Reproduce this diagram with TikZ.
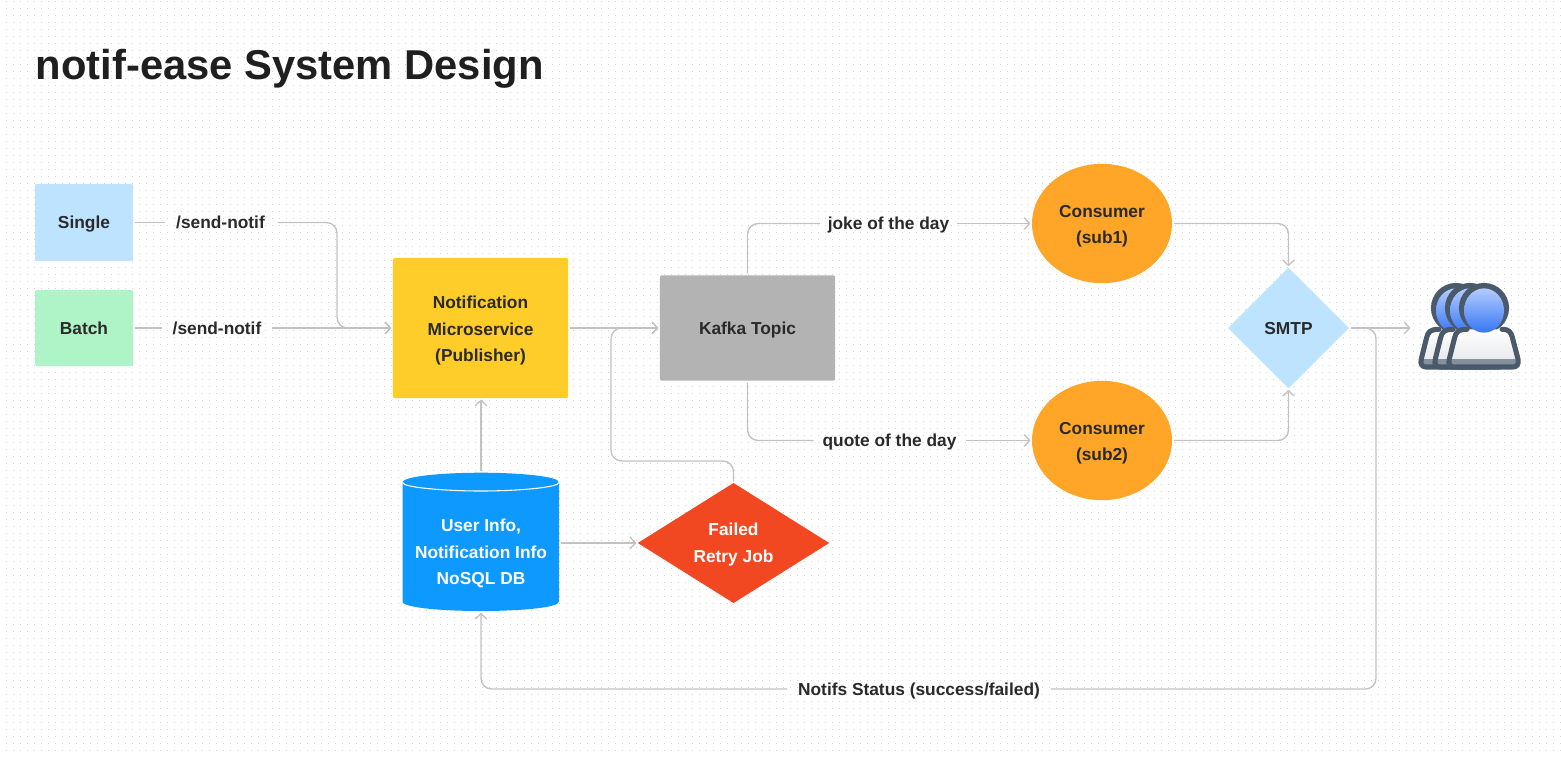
\documentclass[tikz,border=0pt]{standalone}
\usepackage{fontspec}
\setmainfont{Liberation Sans}
\usetikzlibrary{shapes.geometric,arrows.meta}
\definecolor{linec}{HTML}{C2C2C2}
\definecolor{dotc}{HTML}{D4D4D4}
\definecolor{ink}{HTML}{2A2A2A}
\definecolor{skyb}{HTML}{BDE3FF}
\definecolor{mint}{HTML}{AFF4C6}
\definecolor{amber}{HTML}{FFCD29}
\definecolor{kgray}{HTML}{B3B3B3}
\definecolor{orng}{HTML}{FFA629}
\definecolor{dbblue}{HTML}{0D99FF}
\definecolor{redo}{HTML}{F24822}
\definecolor{uline}{HTML}{4A5A6A}
\definecolor{heada}{HTML}{B4CCFF}
\definecolor{headb}{HTML}{3677F5}
\definecolor{bodyb}{HTML}{E3E5E8}
\definecolor{strip}{HTML}{84919D}
\newcommand{\topstrut}[1]{\rule{0pt}{#1}}
\tikzset{
  x=0.75pt,y=-0.75pt,
  txt/.style={font=\fontsize{13pt}{19.9pt}\selectfont\bfseries,text=ink,align=center,inner sep=0pt,outer sep=0pt,
    execute at begin node={\rule{0pt}{12.3pt}},execute at end node={\rule[-3pt]{0pt}{3pt}}},
  box/.style={txt,rectangle,rounded corners=1.5pt},
  lbl/.style={txt,minimum height=14pt},
  conn/.style={draw=linec,line width=1pt,rounded corners=8pt,shorten <=1.5pt},
  arr/.style={conn,-{Straight Barb[length=4pt,width=8.5pt,line width=1pt,round]},shorten >=1.2pt},
}
\begin{document}
\begin{tikzpicture}
\useasboundingbox (0,0) rectangle (1561,758);
\fill[white] (0,0) rectangle (1561,758);
% dotted grid
\foreach \i in {0,...,107}{
  \draw[dotc,line width=0.75pt,dash pattern=on 0.75pt off 4.5pt] (6,{1.5+7*\i}) -- (1561,{1.5+7*\i});
}
\node[anchor=base west,inner sep=0pt,font=\fontsize{31.3pt}{36pt}\selectfont\bfseries,text=black!88] (title) at (35.5,79) {notif-ease System Design};

% boxes
\node[box,fill=skyb,minimum width=73.5pt,minimum height=58pt] (single) at (84,222.5) {Single};
\node[box,fill=mint,minimum width=73.5pt,minimum height=57pt] (batch) at (84,328) {Batch};
\node[box,fill=amber,minimum width=131.5pt,minimum height=105pt] (note) at (480.5,328) {\topstrut{13.8pt}Notification\\Microservice\\(Publisher)};
\node[box,fill=kgray,minimum width=131.5pt,minimum height=79pt] (kafka) at (747.5,328) {Kafka Topic};
\node[txt,ellipse,fill=orng,minimum width=105pt,minimum height=89.5pt] (c1) at (1102,223.5) {\topstrut{13.8pt}Consumer\\(sub1)};
\node[txt,ellipse,fill=orng,minimum width=105pt,minimum height=89.5pt] (c2) at (1102,440.5) {\topstrut{13.8pt}Consumer\\(sub2)};
\node[txt,diamond,fill=skyb,minimum width=90.5pt,minimum height=90.5pt] (smtp) at (1288.5,328) {SMTP};
\node[txt,diamond,fill=redo,text=white,aspect=1.6,minimum width=143.5pt,minimum height=90pt] (retry) at (733.5,543) {\topstrut{11.6pt}Failed\\Retry Job};

% database
\fill[dbblue] (402.5,482.5) .. controls (402.5,476) and (445,472.7) .. (481,472.7)
  .. controls (517,472.7) and (559,476) .. (559,482.5) -- (559,601.5)
  .. controls (559,608) and (517,611) .. (481,611)
  .. controls (445,611) and (402.5,608) .. (402.5,601.5) -- cycle;
\draw[white,line width=0.8pt] (402.5,482.5) .. controls (402.5,487.5) and (445,491) .. (481,491)
  .. controls (517,491) and (559,487.5) .. (559,482.5);
\node[minimum width=117pt,minimum height=104pt,inner sep=0pt,outer sep=0pt] (db) at (481,542) {};
\node[txt,text=white] (dbtext) at (481,551.5) {\topstrut{12.8pt}User Info,\\Notification Info\\NoSQL DB};

% labels
\node[lbl,minimum width=83pt] (l1) at (220.5,222.5) {/send-notif};
\node[lbl,minimum width=82.5pt] (l2) at (217,328) {/send-notif};
\node[lbl,minimum width=103pt] (l3) at (888.5,223.5) {joke of the day};
\node[lbl,minimum width=114pt] (l4) at (889.5,440.5) {quote of the day};
\node[lbl,minimum width=198pt] (l5) at (919,689) {Notifs Status (success/failed)};

% helper points
\coordinate (b1) at (337,280);
\coordinate (b2) at (611,461);
\coordinate (b3) at (1376,500);
\coordinate (users) at (1412,328);

% connectors
\draw[conn] (single.east) -- (l1.west);
\draw[arr] (l1.east) -| (b1) |- (note.west);
\draw[conn] (batch.east) -- (l2.west);
\draw[arr,shorten <=0pt] (l2.east) -- (note.west);
\draw[arr] (note.east) -- (kafka.west);
\draw[arr] (retry.north) |- (b2) |- (kafka.west);
\draw[arr] (db.north) -- (db.north |- note.south);
\draw[arr] (db.east |- retry.west) -- (retry.west);
\draw[conn] (kafka.north) |- (l3.west);
\draw[arr,shorten <=0pt] (l3.east) -- (c1.west);
\draw[conn] (kafka.south) |- (l4.west);
\draw[arr,shorten <=0pt] (l4.east) -- (c2.west);
\draw[arr] (c1.east) -| (smtp.north);
\draw[arr] (c2.east) -| (smtp.south);
\draw[arr] (smtp.east) -- (users);
\draw[conn] (smtp.east) -| (b3) |- (l5.east);
\draw[arr,shorten <=0pt] (l5.west) -| (db.south);

% users icon
\foreach \dx in {-28,-14,0}{
  \begin{scope}[xshift=\dx*0.75pt]
    \fill[uline] (1484,308) circle[radius=18.8pt];
    \path[top color=white,bottom color=bodyb]
      (1466,329.3) .. controls (1458,329.3) and (1456,332) .. (1454.5,338)
      -- (1449.3,359) .. controls (1448,364) and (1450,367) .. (1454,367)
      -- (1513,367) .. controls (1517,367) and (1519,364) .. (1518,359)
      -- (1512.5,338) .. controls (1511,332) and (1509,329.3) .. (1504,329.3) -- cycle;
    \fill[strip] (1449,359) rectangle (1518,367);
    \draw[uline,line width=3.8pt,line join=round,line cap=round]
      (1467,329.3) .. controls (1458,329.3) and (1456,332) .. (1454.5,338)
      -- (1449.3,359) .. controls (1448,364) and (1450,367) .. (1454,367)
      -- (1513,367) .. controls (1517,367) and (1519,364) .. (1518,359)
      -- (1512.5,338) .. controls (1511,332) and (1509,329.3) .. (1502,329.3);
    \shade[top color=heada,bottom color=headb] (1484,310.5) ellipse[x radius=15pt,y radius=16.6pt];
  \end{scope}
}
\end{tikzpicture}
\end{document}
